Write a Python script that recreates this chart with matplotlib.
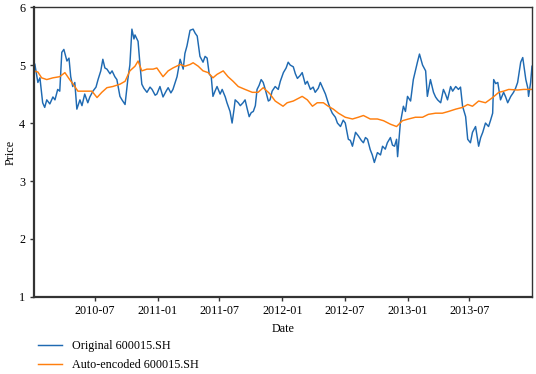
import numpy as np
import pandas as pd
import matplotlib
matplotlib.use("Agg")
import matplotlib.pyplot as plt
import matplotlib.dates as mdates

plt.rcParams['font.family'] = ['Liberation Serif', 'DejaVu Serif']

# Original series
orig_dates = [
    "2010-01-04", "2010-01-07", "2010-01-16", "2010-01-22", "2010-01-30", "2010-02-05",
    "2010-02-11", "2010-02-20", "2010-03-01", "2010-03-07", "2010-03-15", "2010-03-21",
    "2010-03-27", "2010-04-02", "2010-04-11", "2010-04-17", "2010-04-22", "2010-04-28",
    "2010-05-04", "2010-05-10", "2010-05-19", "2010-05-25", "2010-06-02", "2010-06-11",
    "2010-06-17", "2010-06-26", "2010-07-05", "2010-07-11", "2010-07-19", "2010-07-25",
    "2010-07-31", "2010-08-06", "2010-08-15", "2010-08-21", "2010-08-29", "2010-09-04",
    "2010-09-13", "2010-09-19", "2010-09-28", "2010-10-06", "2010-10-12", "2010-10-18",
    "2010-10-24", "2010-10-27", "2010-11-05", "2010-11-11", "2010-11-16", "2010-11-22",
    "2010-12-01", "2010-12-10", "2010-12-16", "2010-12-25", "2010-12-30", "2011-01-08",
    "2011-01-17", "2011-01-26", "2011-02-01", "2011-02-09", "2011-02-15", "2011-02-27",
    "2011-03-08", "2011-03-17", "2011-03-22", "2011-03-28", "2011-04-06", "2011-04-15",
    "2011-04-21", "2011-04-27", "2011-05-05", "2011-05-14", "2011-05-20", "2011-05-26",
    "2011-06-01", "2011-06-07", "2011-06-12", "2011-06-18", "2011-06-24", "2011-07-03",
    "2011-07-09", "2011-07-18", "2011-07-23", "2011-08-01", "2011-08-07", "2011-08-13",
    "2011-08-16", "2011-08-25", "2011-08-31", "2011-09-08", "2011-09-14", "2011-09-20",
    "2011-09-26", "2011-10-02", "2011-10-08", "2011-10-14", "2011-10-19", "2011-10-25",
    "2011-10-31", "2011-11-06", "2011-11-12", "2011-11-21", "2011-11-26", "2011-12-02",
    "2011-12-11", "2011-12-20", "2011-12-26", "2012-01-04", "2012-01-12", "2012-01-18",
    "2012-01-24", "2012-02-02", "2012-02-08", "2012-02-14", "2012-02-22", "2012-02-28",
    "2012-03-08", "2012-03-14", "2012-03-23", "2012-03-31", "2012-04-06", "2012-04-15",
    "2012-04-21", "2012-04-30", "2012-05-06", "2012-05-14", "2012-05-20", "2012-05-26",
    "2012-06-04", "2012-06-10", "2012-06-19", "2012-06-27", "2012-07-03", "2012-07-12",
    "2012-07-18", "2012-07-24", "2012-08-02", "2012-08-10", "2012-08-19", "2012-08-25",
    "2012-08-31", "2012-09-06", "2012-09-14", "2012-09-20", "2012-09-26", "2012-10-05",
    "2012-10-14", "2012-10-20", "2012-10-28", "2012-11-03", "2012-11-12", "2012-11-18",
    "2012-11-24", "2012-11-30", "2012-12-03", "2012-12-11", "2012-12-20", "2012-12-26",
    "2013-01-01", "2013-01-10", "2013-01-18", "2013-01-24", "2013-01-30", "2013-02-05",
    "2013-02-14", "2013-02-23", "2013-02-28", "2013-03-09", "2013-03-18", "2013-03-24",
    "2013-03-30", "2013-04-08", "2013-04-16", "2013-04-22", "2013-04-28", "2013-05-07",
    "2013-05-13", "2013-05-22", "2013-05-30", "2013-06-05", "2013-06-11", "2013-06-20",
    "2013-06-26", "2013-07-04", "2013-07-10", "2013-07-19", "2013-07-28", "2013-08-03",
    "2013-08-09", "2013-08-17", "2013-08-26", "2013-09-01", "2013-09-07", "2013-09-10",
    "2013-09-16", "2013-09-22", "2013-09-30", "2013-10-09", "2013-10-15", "2013-10-21",
    "2013-10-30", "2013-11-07", "2013-11-13", "2013-11-19", "2013-11-28", "2013-12-04",
    "2013-12-13", "2013-12-19", "2013-12-21", "2013-12-27", "2013-12-31",
]
orig_price = [
    4.85, 5.02, 4.70, 4.78, 4.35, 4.27, 4.40, 4.33, 4.45, 4.40, 4.58, 4.55,
    5.22, 5.27, 5.07, 5.12, 4.80, 4.63, 4.70, 4.24, 4.40, 4.30, 4.50, 4.35,
    4.45, 4.55, 4.62, 4.75, 4.90, 5.10, 4.95, 4.93, 4.85, 4.90, 4.80, 4.75,
    4.46, 4.40, 4.32, 4.75, 5.00, 5.62, 5.45, 5.52, 5.41, 4.98, 4.67, 4.60,
    4.53, 4.62, 4.58, 4.48, 4.50, 4.63, 4.45, 4.55, 4.61, 4.52, 4.58, 4.80,
    5.10, 4.93, 5.20, 5.33, 5.60, 5.62, 5.55, 5.50, 5.15, 5.05, 5.15, 5.12,
    4.85, 4.80, 4.46, 4.55, 4.63, 4.50, 4.58, 4.45, 4.35, 4.20, 4.00, 4.25,
    4.40, 4.35, 4.30, 4.35, 4.40, 4.25, 4.11, 4.18, 4.20, 4.30, 4.58, 4.65,
    4.75, 4.70, 4.58, 4.38, 4.40, 4.55, 4.63, 4.58, 4.72, 4.87, 4.95, 5.05,
    5.00, 4.97, 4.85, 4.77, 4.82, 4.87, 4.67, 4.72, 4.58, 4.62, 4.53, 4.60,
    4.70, 4.58, 4.50, 4.35, 4.25, 4.17, 4.10, 4.00, 3.94, 4.05, 4.00, 3.72,
    3.70, 3.60, 3.84, 3.78, 3.70, 3.66, 3.75, 3.72, 3.54, 3.45, 3.32, 3.49,
    3.45, 3.60, 3.55, 3.66, 3.75, 3.62, 3.60, 3.72, 3.42, 4.00, 4.29, 4.20,
    4.46, 4.38, 4.75, 4.90, 5.05, 5.19, 5.00, 4.90, 4.46, 4.75, 4.53, 4.45,
    4.40, 4.35, 4.58, 4.50, 4.40, 4.63, 4.55, 4.63, 4.58, 4.62, 4.29, 4.11,
    3.72, 3.66, 3.84, 3.94, 3.60, 3.75, 3.84, 4.00, 3.94, 4.05, 4.17, 4.75,
    4.68, 4.70, 4.40, 4.53, 4.45, 4.35, 4.46, 4.53, 4.60, 4.70, 5.05, 5.13,
    4.75, 4.60, 4.46, 4.70, 4.98,
]

# Auto-encoded series
enc_dates = [
    "2010-01-04", "2010-01-16", "2010-01-27", "2010-02-11", "2010-03-01", "2010-03-21",
    "2010-04-05", "2010-04-19", "2010-05-04", "2010-05-13", "2010-06-02", "2010-06-23",
    "2010-07-08", "2010-07-22", "2010-08-06", "2010-08-23", "2010-09-13", "2010-09-28",
    "2010-10-12", "2010-10-27", "2010-11-05", "2010-11-16", "2010-12-01", "2010-12-19",
    "2010-12-30", "2011-01-17", "2011-02-01", "2011-02-15", "2011-03-08", "2011-03-22",
    "2011-04-06", "2011-04-15", "2011-04-30", "2011-05-14", "2011-05-29", "2011-06-12",
    "2011-06-24", "2011-07-12", "2011-07-26", "2011-08-10", "2011-08-25", "2011-09-14",
    "2011-10-05", "2011-10-22", "2011-11-06", "2011-11-21", "2011-11-26", "2011-12-11",
    "2012-01-03", "2012-01-15", "2012-02-02", "2012-02-28", "2012-03-14", "2012-03-29",
    "2012-04-12", "2012-04-30", "2012-05-14", "2012-05-29", "2012-06-13", "2012-07-03",
    "2012-07-24", "2012-08-10", "2012-08-25", "2012-09-14", "2012-10-05", "2012-10-23",
    "2012-11-12", "2012-11-30", "2012-12-17", "2013-01-04", "2013-01-24", "2013-02-14",
    "2013-03-03", "2013-03-24", "2013-04-13", "2013-05-01", "2013-05-22", "2013-06-11",
    "2013-06-26", "2013-07-10", "2013-07-28", "2013-08-17", "2013-09-07", "2013-09-25",
    "2013-10-09", "2013-10-24", "2013-11-19", "2013-12-07", "2013-12-31",
]
enc_price = [
    4.90, 4.88, 4.78, 4.75, 4.78, 4.80, 4.87, 4.75, 4.63, 4.55, 4.55, 4.55,
    4.44, 4.53, 4.61, 4.63, 4.67, 4.72, 4.90, 4.98, 5.07, 4.90, 4.93, 4.93,
    4.95, 4.80, 4.90, 4.95, 5.01, 4.98, 5.01, 5.04, 4.98, 4.90, 4.87, 4.78,
    4.84, 4.90, 4.80, 4.72, 4.63, 4.58, 4.53, 4.53, 4.61, 4.53, 4.50, 4.38,
    4.29, 4.35, 4.38, 4.46, 4.40, 4.29, 4.35, 4.35, 4.29, 4.24, 4.17, 4.10,
    4.07, 4.10, 4.13, 4.07, 4.07, 4.04, 3.98, 3.94, 4.04, 4.07, 4.10, 4.10,
    4.15, 4.17, 4.17, 4.20, 4.24, 4.27, 4.32, 4.29, 4.38, 4.35, 4.44, 4.53,
    4.55, 4.58, 4.57, 4.58, 4.58,
]

orig_x = pd.to_datetime(orig_dates)
enc_x = pd.to_datetime(enc_dates)

fig = plt.figure(figsize=(5.36, 3.74), dpi=100)
ax = fig.add_axes([0.063, 0.206, 0.9295, 0.775])

ax.plot(orig_x, orig_price, color='#1f6ab2', lw=1.05, label='Original 600015.SH')
ax.plot(enc_x, enc_price, color='#ff7f0e', lw=1.05, label='Auto-encoded 600015.SH')

ax.set_xlim(orig_x[0], orig_x[-1])
ax.set_ylim(1, 6)
ax.set_yticks([1, 2, 3, 4, 5, 6])
ax.xaxis.set_major_locator(mdates.MonthLocator(bymonth=[1, 7]))
ax.xaxis.set_major_formatter(mdates.DateFormatter('%Y-%m'))

for side in ['left', 'bottom']:
    ax.spines[side].set_linewidth(1.6)
    ax.spines[side].set_color('#333333')
for side in ['top', 'right']:
    ax.spines[side].set_linewidth(1.0)
    ax.spines[side].set_color('#333333')

ax.tick_params(axis='both', labelsize=8.7, length=3, width=1, color='#333333', pad=3)
ax.set_xlabel('Date', fontsize=8.7, labelpad=4)
ax.set_ylabel('Price', fontsize=8.7, labelpad=2)

fig.legend(loc='upper left', bbox_to_anchor=(0.06, 0.106), frameon=False,
           fontsize=8.7, handlelength=2.0, labelspacing=0.55, borderpad=0)

fig.savefig('out.png', dpi=100)
